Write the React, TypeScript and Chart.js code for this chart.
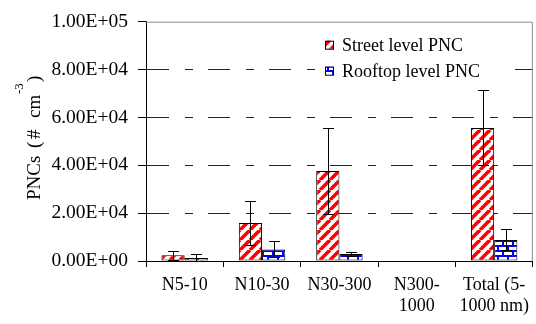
import React, { useEffect, useRef } from "react";
import { Chart, registerables } from "chart.js";

Chart.register(...registerables);

const categories: (string | string[])[] = ["N5-10", "N10-30", "N30-300", ["N300-", "1000"], ["Total (5-", "1000 nm)"]];
const streetValues = [2400, 15900, 37600, 0, 55600];
const streetLow = [600, 6500, 19800, 0, 40200];
const streetHigh = [4200, 25000, 55700, 0, 71300];
const roofValues = [1300, 4800, 2900, 0, 8800];
const roofLow = [0, 1700, 2100, 0, 4500];
const roofHigh = [3100, 8400, 3800, 0, 13500];
const seriesNames = ["Street level PNC", "Rooftop level PNC"];
const yMin = 0;
const yMax = 100000;
const yStep = 20000;

const FONT = "'Liberation Serif', 'Times New Roman', serif";

function fmtExp(v: number): string {
  if (v === 0) return "0.00E+00";
  const e = Math.floor(Math.log10(Math.abs(v)));
  const m = v / Math.pow(10, e);
  const sign = e < 0 ? "-" : "+";
  const ea = Math.abs(e);
  return m.toFixed(2) + "E" + sign + (ea < 10 ? "0" + ea : String(ea));
}

function makeStripe(ctx: CanvasRenderingContext2D): CanvasPattern | string {
  const c = document.createElement("canvas");
  const s = 10;
  c.width = s;
  c.height = s;
  const g = c.getContext("2d")!;
  g.fillStyle = "#ffffff";
  g.fillRect(0, 0, s, s);
  g.strokeStyle = "#ff0000";
  g.lineWidth = 3.6;
  for (const off of [-s, 0, s]) {
    g.beginPath();
    g.moveTo(off, s);
    g.lineTo(off + s, 0);
    g.stroke();
  }
  return ctx.createPattern(c, "repeat") || "#ff0000";
}

function makeBrick(ctx: CanvasRenderingContext2D): CanvasPattern | string {
  const c = document.createElement("canvas");
  const s = 10;
  c.width = s;
  c.height = s;
  const g = c.getContext("2d")!;
  g.fillStyle = "#ffffff";
  g.fillRect(0, 0, s, s);
  g.fillStyle = "#0000ff";
  g.fillRect(0, 0, s, 2);
  g.fillRect(0, 5, s, 2);
  g.fillRect(2, 0, 2, 5);
  g.fillRect(7, 5, 2, 5);
  return ctx.createPattern(c, "repeat") || "#0000ff";
}

export default function App() {
  const ref = useRef<HTMLCanvasElement>(null);
  useEffect(() => {
    let chart: any = null;
    let cancelled = false;
    const build = () => {
      if (cancelled) return;
      const canvas = ref.current!;
      const ctx = canvas.getContext("2d")!;
      const stripe = makeStripe(ctx);
      const brick = makeBrick(ctx);
      const lows = [streetLow, roofLow];
      const highs = [streetHigh, roofHigh];

      const extras = {
        id: "extras",
        afterDatasetsDraw(ch: any) {
          const c = ch.ctx;
          const y = ch.scales.y;
          const area = ch.chartArea;
          c.save();
          c.strokeStyle = "#000";
          c.lineWidth = 1;
          c.setLineDash([]);
          [0, 1].forEach((di) => {
            const meta = ch.getDatasetMeta(di);
            meta.data.forEach((bar: any, i: number) => {
              const lo = lows[di][i];
              const hi = highs[di][i];
              if (hi === 0 && lo === 0) return;
              const x = Math.round(bar.x) + 0.5;
              const yl = Math.round(y.getPixelForValue(lo)) + 0.5;
              const yh = Math.round(y.getPixelForValue(hi)) + 0.5;
              c.beginPath();
              c.moveTo(x, yl);
              c.lineTo(x, yh);
              c.moveTo(x - 5.5, yh);
              c.lineTo(x + 5.5, yh);
              c.moveTo(x - 5.5, yl);
              c.lineTo(x + 5.5, yl);
              c.stroke();
            });
          });
          c.strokeStyle = "#8c8c8c";
          c.beginPath();
          c.moveTo(area.left, area.top + 0.5);
          c.lineTo(area.right - 0.5, area.top + 0.5);
          c.lineTo(area.right - 0.5, area.bottom);
          c.stroke();
          // legend
          const lx = area.left + 179;
          c.fillStyle = "#fff";
          c.fillRect(lx - 7, area.top + 9, 197, 52);
          const rows = [area.top + 23, area.top + 49];
          const fills = [stripe, brick];
          c.font = "18px " + FONT;
          c.textBaseline = "alphabetic";
          c.textAlign = "left";
          rows.forEach((ry, k) => {
            c.fillStyle = fills[k] as any;
            c.fillRect(lx, ry - 4, 8, 8);
            c.strokeStyle = "#000";
            c.strokeRect(lx + 0.5, ry - 3.5, 8, 8);
            c.fillStyle = "#000";
            c.fillText(seriesNames[k], lx + 17, ry + 6.5);
          });
          // y axis title
          c.save();
          c.translate(40, 200);
          c.rotate(-Math.PI / 2);
          c.fillStyle = "#000";
          c.textBaseline = "alphabetic";
          c.textAlign = "left";
          c.font = "19px " + FONT;
          c.fillText("PNCs", 0, 0);
          c.fillText("(", 52, 0);
          c.fillText("#", 61, 0);
          c.fillText("cm", 82, 0);
          c.fillText(")", 118, 0);
          c.font = "13px " + FONT;
          c.fillText("-3", 106, -17);
          c.restore();
          c.restore();
        },
      };

      chart = new Chart(canvas, {
        type: "bar",
        data: {
          labels: categories,
          datasets: [
            {
              label: seriesNames[0],
              data: streetValues,
              backgroundColor: stripe as any,
              borderColor: "#000",
              borderWidth: 1,
              borderSkipped: false,
            },
            {
              label: seriesNames[1],
              data: roofValues,
              backgroundColor: brick as any,
              borderColor: "#000",
              borderWidth: 1,
              borderSkipped: false,
            },
          ],
        },
        options: {
          animation: false,
          responsive: false,
          devicePixelRatio: 1,
          layout: { padding: { top: 14, right: 1, left: 0, bottom: 0 } },
          datasets: { bar: { categoryPercentage: 0.6, barPercentage: 1 } },
          plugins: { legend: { display: false }, tooltip: { enabled: false } },
          scales: {
            x: {
              grid: {
                offset: true,
                drawOnChartArea: false,
                drawTicks: true,
                tickLength: 6,
                color: "#000",
              },
              border: { color: "#000", width: 1 },
              ticks: {
                color: "#000",
                font: { family: FONT, size: 18, lineHeight: 1.2 },
                padding: 7,
                maxRotation: 0,
                autoSkip: false,
              },
              afterFit(scale: any) {
                scale.height = 63;
              },
            },
            y: {
              min: yMin,
              max: yMax,
              grid: {
                color: (cx: any) => (cx.tick && cx.tick.value === yMax ? "rgba(0,0,0,0)" : "#222"),
                tickBorderDash: [1, 0],
                tickColor: "#000",
                tickLength: 8,
                lineWidth: 1,
              },
              border: { color: "#000", width: 1, dash: [22, 16, 8, 15] },
              ticks: {
                stepSize: yStep,
                color: "#000",
                font: { family: FONT, size: 19.5 },
                padding: 10,
                callback: (v: any) => fmtExp(Number(v)),
              },
              afterFit(scale: any) {
                scale.width = 146;
              },
            },
          },
        } as any,
        plugins: [extras],
      });
    };
    const fonts: any = (document as any).fonts;
    if (fonts && fonts.load) {
      Promise.all([fonts.load("18px 'Liberation Serif'"), fonts.load("13px 'Liberation Serif'")])
        .catch(() => null)
        .then(build);
    } else {
      build();
    }
    return () => {
      cancelled = true;
      if (chart) chart.destroy();
    };
  }, []);

  return (
    <div style={{ position: "fixed", left: 0, top: 0, width: 536, height: 324, background: "#fff" }}>
      <canvas ref={ref} width={536} height={324} style={{ width: 536, height: 324, display: "block" }} />
    </div>
  );
}
